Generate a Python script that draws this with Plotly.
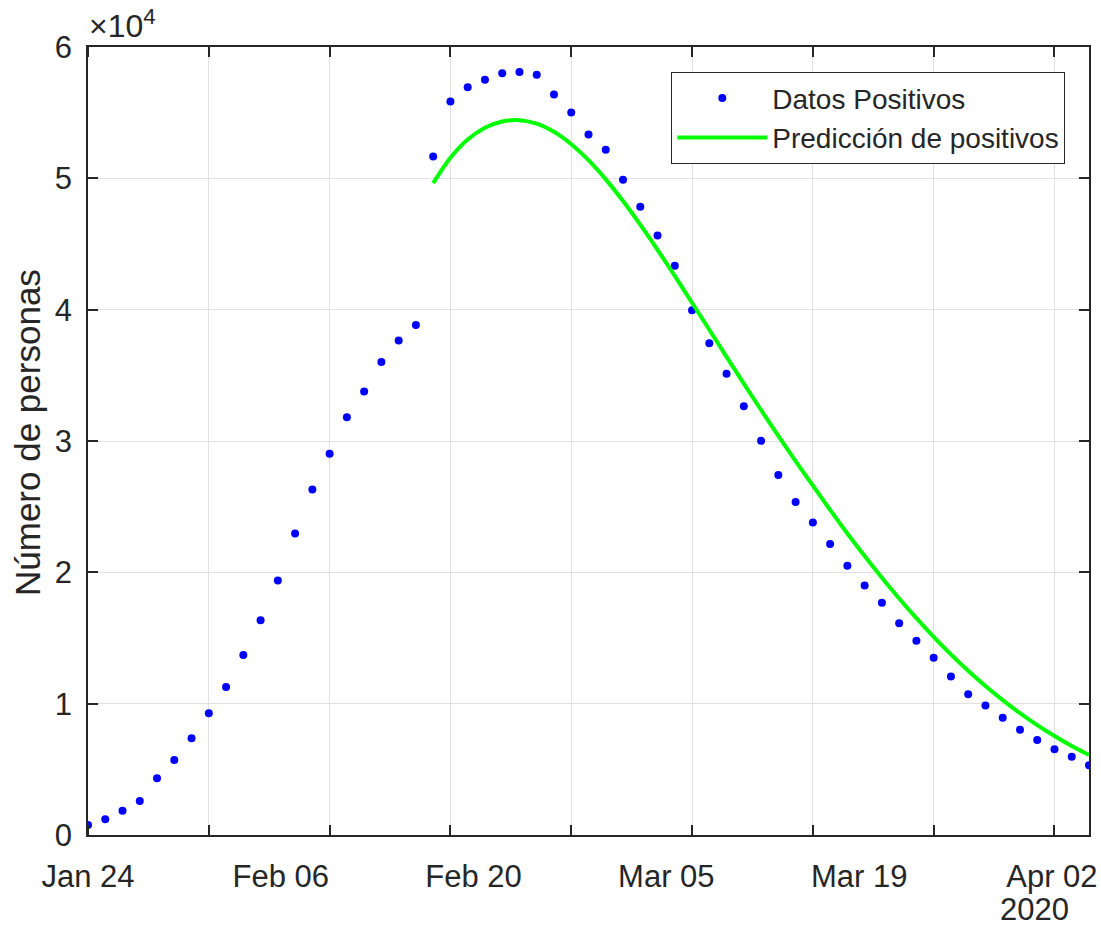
import plotly.graph_objects as go

# ---------------- data ----------------
day_index = list(range(59))  # daily samples, 0 = Jan 24
datos_positivos = [
    760, 1200, 1850, 2590, 4320, 5710, 7360, 9270, 11270, 13710,
    16350, 19370, 22950, 26300, 29020, 31810, 33760, 36020, 37650, 38840,
    51660, 55850, 56940, 57500, 58010, 58090, 57880, 56380, 55010, 53340,
    52170, 49890, 47830, 45640, 43340, 39960, 37450, 35130, 32650, 30010,
    27420, 25360, 23790, 22160, 20510, 18990, 17690, 16120, 14800, 13500,
    12060, 10710, 9860, 8930, 8020, 7240, 6530, 5960, 5310,
]
pred_index = list(range(20, 59))
prediccion = [
    49630, 51560, 52950, 53850, 54330, 54430, 54160, 53540, 52600, 51380,
    49920, 48270, 46470, 44560, 42570, 40530, 38470, 36410, 34370, 32360,
    30390, 28470, 26610, 24750, 22960, 21240, 19590, 18010, 16510, 15090,
    13750, 12500, 11340, 10270, 9280, 8370, 7540, 6780, 6090,
]
x_tick_labels = ["Jan 24", "Feb 06", "Feb 20", "Mar 05", "Mar 19", "Apr 02"]
label_step = 11.17  # spacing of date labels in day-index units
y_tick_values = [0, 10000, 20000, 30000, 40000, 50000, 60000]
y_tick_labels = ["0", "1", "2", "3", "4", "5", "6"]

# ---------------- style ----------------
W, H = 1101, 928
ML, MR, MT, MB = 88, 12, 47, 93
PW, PH = W - ML - MR, H - MT - MB
TXT = "#262626"
GRID = "#e1e1e1"
FONT = "Liberation Sans, Arial, Helvetica, sans-serif"


def px_x(p):
    return (p - ML) / PW


def px_y(p):
    return (H - MB - p) / PH


fig = go.Figure()
fig.add_trace(go.Scatter(
    x=day_index, y=datos_positivos, mode="markers", name="Datos Positivos",
    marker=dict(color="#0000ff", size=8),
))
fig.add_trace(go.Scatter(
    x=pred_index, y=prediccion, mode="lines", name="Predicción de positivos",
    line=dict(color="#00ff00", width=4, shape="spline", smoothing=0.8),
))

fig.update_layout(
    width=W, height=H,
    margin=dict(l=ML, r=MR, t=MT, b=MB, pad=0, autoexpand=False),
    paper_bgcolor="white", plot_bgcolor="white",
    font=dict(family=FONT, size=31, color=TXT),
    showlegend=True,
    legend=dict(
        x=px_x(1065), xanchor="right", y=px_y(72), yanchor="top",
        bgcolor="white", bordercolor=TXT, borderwidth=1.3,
        font=dict(size=28, color=TXT), itemwidth=90,
        tracegroupgap=0,
    ),
    xaxis=dict(
        range=[0, 58], automargin=False,
        tickmode="array",
        tickvals=[i * label_step for i in range(len(x_tick_labels))],
        ticktext=x_tick_labels,
        ticks="", showgrid=False, zeroline=False,
        showline=True, linecolor=TXT, linewidth=1.5, mirror="ticks",
        ticklabelstandoff=13,
        minor=dict(tick0=0, dtick=7, showgrid=True, gridcolor=GRID,
                   gridwidth=1, ticks="inside", ticklen=10,
                   tickcolor=TXT, tickwidth=1.5),
    ),
    yaxis=dict(
        range=[0, 60000], automargin=False,
        tickmode="array", tickvals=y_tick_values, ticktext=y_tick_labels,
        ticks="inside", ticklen=10, tickcolor=TXT, tickwidth=1.5,
        showgrid=True, gridcolor=GRID, gridwidth=1, zeroline=False,
        showline=True, linecolor=TXT, linewidth=1.5, mirror="ticks",
        ticklabelstandoff=8,
    ),
    annotations=[
        dict(text="×10<sup>4</sup>", xref="paper", yref="paper",
             x=px_x(87), y=px_y(46), xanchor="left", yanchor="bottom",
             showarrow=False, font=dict(size=32, color=TXT)),
        dict(text="2020", xref="paper", yref="paper",
             x=px_x(1034), y=px_y(910), xanchor="center", yanchor="middle",
             showarrow=False, font=dict(size=31, color=TXT)),
        dict(text="Número de personas", xref="paper", yref="paper",
             x=px_x(27), y=px_y(433), xanchor="center", yanchor="middle",
             textangle=-90, showarrow=False, font=dict(size=35, color=TXT)),
    ],
)

fig.write_html("out.html")
